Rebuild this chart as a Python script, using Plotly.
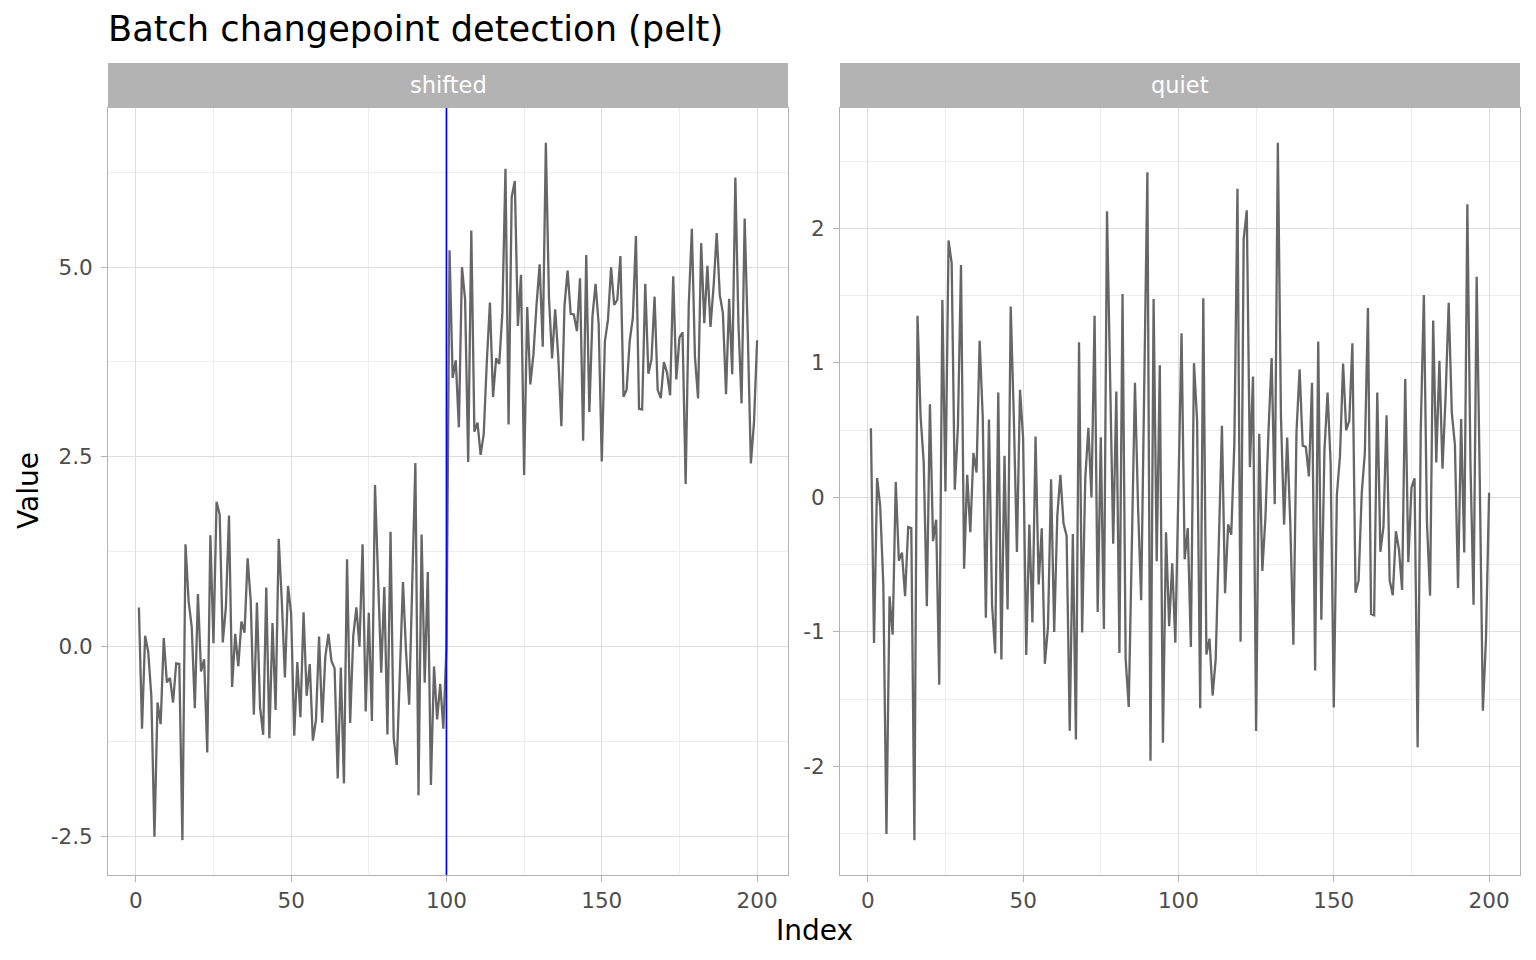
import plotly.graph_objects as go

W, H = 1536, 960

index = list(range(1, 201))

quiet = [
    0.515, -1.082, 0.144, -0.07, -0.65, -2.503, -0.735, -1.02, 0.114, -0.47,
    -0.41, -0.735, -0.22, -0.228, -2.548, 1.35, 0.6, 0.26, -0.809, 0.693,
    -0.325, -0.166, -1.392, 1.468, 0.045, 1.91, 1.74, 0.057, 0.52, 1.728,
    -0.53, 0.168, -0.258, 0.33, 0.185, 1.165, 0.6, -0.895, 0.58, -0.8,
    -1.16, 0.78, -1.205, 0.31, -0.834, 1.42, 0.6, -0.405, 0.8, 0.44,
    -1.172, -0.202, -0.93, 0.453, -0.647, -0.23, -1.237, -0.963, 0.135, -1.0,
    -0.137, 0.168, -0.192, -0.286, -1.735, -0.273, -1.8, 1.153, -1.005, 0.138,
    0.518, 0.0, 1.35, -0.852, 0.448, -0.978, 2.128, 0.9, -0.344, 0.787,
    -1.156, 1.513, -1.2, -1.558, -0.4, 0.852, -0.07, -0.765, 0.85, 2.418,
    -1.958, 1.476, -0.475, 0.983, -1.823, -0.26, -0.958, -0.49, -1.08, 0.0,
    1.221, -0.46, -0.228, -1.111, 0.998, 0.573, -1.567, 1.48, -1.168, -1.05,
    -1.473, -1.2, -0.24, 0.532, -0.712, -0.2, -0.277, 0.4, 2.295, -1.073,
    1.92, 2.135, 0.225, 0.898, -1.737, 0.473, -0.546, -0.15, 0.5, 1.036,
    -0.05, 2.636, 0.6, -0.202, 0.445, -0.19, -1.095, 0.49, 0.953, 0.385,
    0.376, 0.156, 0.852, -1.286, 1.16, -0.91, 0.35, 0.779, 0.25, -1.562,
    0.02, 0.307, 0.996, 0.5, 0.57, 1.146, -0.708, -0.617, 0.03, 0.33,
    1.409, -0.866, -0.876, 0.779, -0.404, -0.217, 0.61, -0.617, -0.727, -0.252,
    -0.39, -0.688, 0.88, -0.481, 0.071, 0.142, -1.858, 0.5, 1.505, -0.19,
    -0.73, 1.315, 0.26, 1.016, 0.213, 0.75, 1.447, 0.63, 0.39, -0.673,
    0.583, -0.41, 2.179, 0.25, -0.798, 1.641, 0.13, -1.586, -1.05, 0.035,
]

shifted = [
    0.515, -1.082, 0.144, -0.07, -0.65, -2.503, -0.735, -1.02, 0.114, -0.47,
    -0.41, -0.735, -0.22, -0.228, -2.548, 1.35, 0.6, 0.26, -0.809, 0.693,
    -0.325, -0.166, -1.392, 1.468, 0.045, 1.91, 1.74, 0.057, 0.52, 1.728,
    -0.53, 0.168, -0.258, 0.33, 0.185, 1.165, 0.6, -0.895, 0.58, -0.8,
    -1.16, 0.78, -1.205, 0.31, -0.834, 1.42, 0.6, -0.405, 0.8, 0.44,
    -1.172, -0.202, -0.93, 0.453, -0.647, -0.23, -1.237, -0.963, 0.135, -1.0,
    -0.137, 0.168, -0.192, -0.286, -1.735, -0.273, -1.8, 1.153, -1.005, 0.138,
    0.518, 0.0, 1.35, -0.852, 0.448, -0.978, 2.128, 0.9, -0.344, 0.787,
    -1.156, 1.513, -1.2, -1.558, -0.4, 0.852, -0.07, -0.765, 0.85, 2.418,
    -1.958, 1.476, -0.475, 0.983, -1.823, -0.26, -0.958, -0.49, -1.08, 0.0,
    5.221, 3.54, 3.772, 2.889, 4.998, 4.573, 2.433, 5.48, 2.832, 2.95,
    2.527, 2.8, 3.76, 4.532, 3.288, 3.8, 3.723, 4.4, 6.295, 2.927,
    5.92, 6.135, 4.225, 4.898, 2.263, 4.473, 3.454, 3.85, 4.5, 5.036,
    3.95, 6.636, 4.6, 3.798, 4.445, 3.81, 2.905, 4.49, 4.953, 4.385,
    4.376, 4.156, 4.852, 2.714, 5.16, 3.09, 4.35, 4.779, 4.25, 2.438,
    4.02, 4.307, 4.996, 4.5, 4.57, 5.146, 3.292, 3.383, 4.03, 4.33,
    5.409, 3.134, 3.124, 4.779, 3.596, 3.783, 4.61, 3.383, 3.273, 3.748,
    3.61, 3.312, 4.88, 3.519, 4.071, 4.142, 2.142, 4.5, 5.505, 3.81,
    3.27, 5.315, 4.26, 5.016, 4.213, 4.75, 5.447, 4.63, 4.39, 3.327,
    4.583, 3.59, 6.179, 4.25, 3.202, 5.641, 4.13, 2.414, 2.95, 4.035,
]

changepoint = 100

panels = ["shifted", "quiet"]

left_ytickvals = [-2.5, 0, 2.5, 5]
left_yticktext = ["-2.5", "0.0", "2.5", "5.0"]
left_yminor = [-1.25, 1.25, 3.75, 6.25]
right_ytickvals = [-2, -1, 0, 1, 2]
right_yticktext = ["-2", "-1", "0", "1", "2"]
right_yminor = [-2.5, -1.5, -0.5, 0.5, 1.5, 2.5]
xtickvals = [0, 50, 100, 150, 200]
xticktext = ["0", "50", "100", "150", "200"]
xminor = [25, 75, 125, 175]

FONT = "DejaVu Sans"
LINE_COL = "#666666"
GRID_MAJ = "#DEDEDE"
GRID_MIN = "#EDEDED"
BORDER = "#B3B3B3"
TICKTXT = "#4D4D4D"
TICK_SIZE = 21.5


def px_x(p):
    return p / W


def px_y(p):
    return 1 - p / H


def expand(vals, f=0.05):
    lo, hi = min(vals), max(vals)
    d = (hi - lo) * f
    return [lo - d, hi + d]


fig = go.Figure()
fig.add_trace(go.Scatter(x=index, y=shifted, mode="lines",
                         line=dict(color=LINE_COL, width=2.3),
                         xaxis="x", yaxis="y", showlegend=False,
                         hoverinfo="skip"))
fig.add_trace(go.Scatter(x=index, y=quiet, mode="lines",
                         line=dict(color=LINE_COL, width=2.3),
                         xaxis="x2", yaxis="y2", showlegend=False,
                         hoverinfo="skip"))

panel_top, panel_bot = 108, 875
left_x = (108, 788)
right_x = (840, 1520)
strip_top, strip_bot = 63, 107

common_x = dict(
    range=expand(index), tickmode="array", tickvals=xtickvals, ticktext=xticktext,
    showgrid=True, gridcolor=GRID_MAJ, gridwidth=1, zeroline=False,
    minor=dict(tickmode="array", tickvals=xminor, showgrid=True,
               gridcolor=GRID_MIN, gridwidth=0.6, ticks=""),
    showline=True, mirror=True, linecolor=BORDER, linewidth=1,
    ticks="outside", ticklen=6, tickcolor=BORDER, tickwidth=1,
    ticklabelstandoff=0,
    tickfont=dict(family=FONT, size=TICK_SIZE, color=TICKTXT),
)

common_y = dict(
    showgrid=True, gridcolor=GRID_MAJ, gridwidth=1, zeroline=False,
    showline=True, mirror=True, linecolor=BORDER, linewidth=1,
    ticks="outside", ticklen=6, tickcolor=BORDER, tickwidth=1,
    ticklabelstandoff=4,
    tickfont=dict(family=FONT, size=TICK_SIZE, color=TICKTXT),
)

ydom = [px_y(panel_bot), px_y(panel_top)]

fig.update_layout(
    width=W, height=H, autosize=False,
    margin=dict(l=0, r=0, t=0, b=0),
    paper_bgcolor="white", plot_bgcolor="white",
    xaxis=dict(domain=[px_x(left_x[0]), px_x(left_x[1])], anchor="y", **common_x),
    xaxis2=dict(domain=[px_x(right_x[0]), px_x(right_x[1])], anchor="y2", **common_x),
    yaxis=dict(domain=ydom, anchor="x", range=expand(shifted),
               tickmode="array", tickvals=left_ytickvals, ticktext=left_yticktext,
               minor=dict(tickmode="array", tickvals=left_yminor, showgrid=True,
                          gridcolor=GRID_MIN, gridwidth=0.6, ticks=""),
               **common_y),
    yaxis2=dict(domain=ydom, anchor="x2", range=expand(quiet),
                tickmode="array", tickvals=right_ytickvals, ticktext=right_yticktext,
                minor=dict(tickmode="array", tickvals=right_yminor, showgrid=True,
                           gridcolor=GRID_MIN, gridwidth=0.6, ticks=""),
                **common_y),
)

shapes = []
annotations = []
for (x0, x1), name in zip([left_x, right_x], panels):
    shapes.append(dict(type="rect", xref="paper", yref="paper",
                       x0=px_x(x0), x1=px_x(x1), y0=px_y(strip_bot), y1=px_y(strip_top),
                       fillcolor=BORDER, line=dict(width=0), layer="below"))
    annotations.append(dict(text=name, xref="paper", yref="paper",
                            x=px_x((x0 + x1) / 2), y=px_y((strip_top + strip_bot) / 2),
                            xanchor="center", yanchor="middle", showarrow=False,
                            font=dict(family=FONT, size=22.5, color="white")))

shapes.append(dict(type="line", xref="x", yref="y domain", x0=changepoint, x1=changepoint,
                   y0=0, y1=1, line=dict(color="#0000FF", width=1.7), layer="above"))

annotations.append(dict(text="Batch changepoint detection (pelt)", xref="paper", yref="paper",
                        x=px_x(106), y=px_y(29), xanchor="left", yanchor="middle",
                        showarrow=False, font=dict(family=FONT, size=35.2, color="black")))
annotations.append(dict(text="Index", xref="paper", yref="paper",
                        x=px_x(814), y=px_y(930), xanchor="center", yanchor="middle",
                        showarrow=False, font=dict(family=FONT, size=28, color="black")))
annotations.append(dict(text="Value", xref="paper", yref="paper",
                        x=px_x(28), y=px_y(491), xanchor="center", yanchor="middle",
                        textangle=-90, showarrow=False,
                        font=dict(family=FONT, size=28, color="black")))

fig.update_layout(shapes=shapes, annotations=annotations)

fig.write_html("out.html")
